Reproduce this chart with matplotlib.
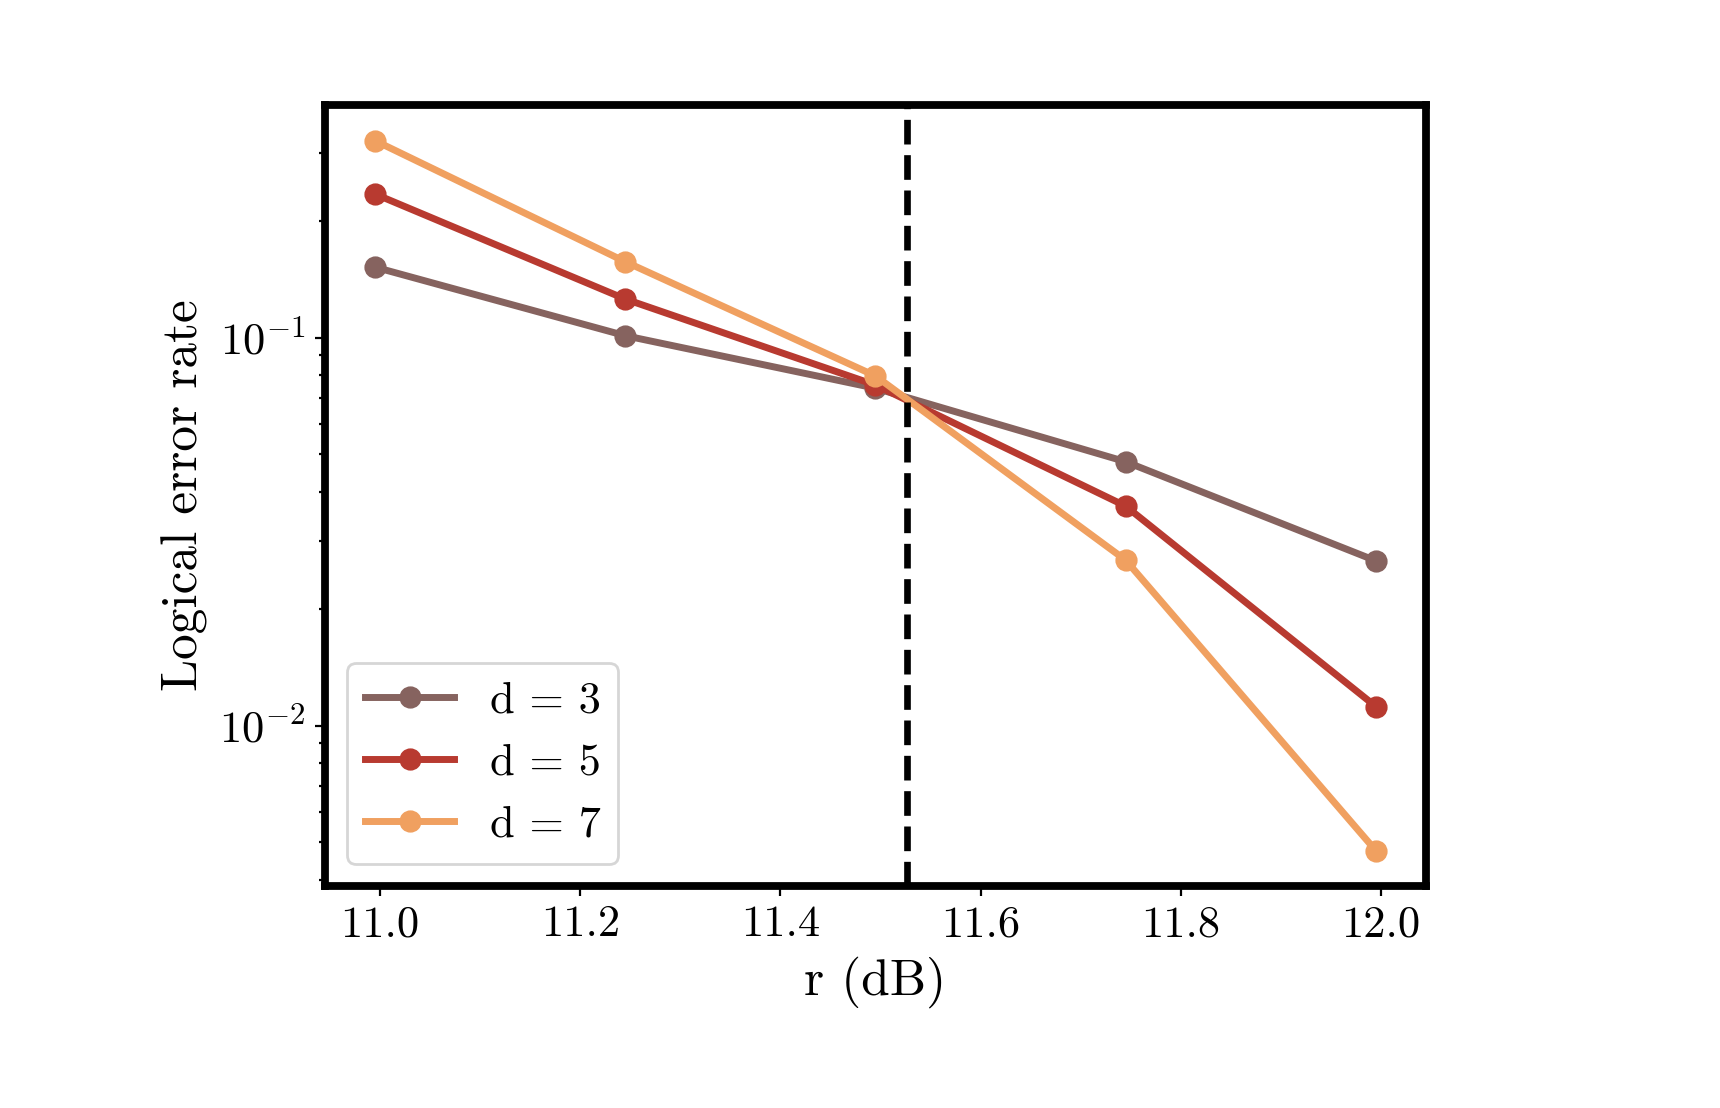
import matplotlib
matplotlib.use("Agg")
import matplotlib.pyplot as plt

plt.rcParams['font.family'] = 'serif'
plt.rcParams['font.serif'] = ['cmr10', 'DejaVu Serif']
plt.rcParams['mathtext.fontset'] = 'cm'
plt.rcParams['axes.formatter.use_mathtext'] = True
plt.rcParams['axes.unicode_minus'] = False

# Data
r_db = [10.995, 11.245, 11.495, 11.745, 11.995]
labels = ["d = 3", "d = 5", "d = 7"]
err_d3 = [0.152, 0.1012, 0.0741, 0.0479, 0.0266]
err_d5 = [0.2346, 0.1258, 0.0755, 0.0368, 0.0112]
err_d7 = [0.322, 0.157, 0.0797, 0.0267, 0.00476]
series = [err_d3, err_d5, err_d7]
colors = ["#86635f", "#b83a30", "#f0a060"]
threshold = 11.526

fig = plt.figure(figsize=(8.6, 5.54), dpi=200)
ax = fig.add_axes([0.189, 0.2004, 0.640, 0.7048])

for ys, lab, c in zip(series, labels, colors):
    ax.plot(r_db, ys, marker='o', color=c, lw=2.5, ms=7, label=lab)

ax.axvline(threshold, color='black', lw=2.4, ls='--')
ax.set_yscale('log')
ax.set_ylim(0.00386, 0.398)
ax.set_xlim(10.945, 12.045)
ax.set_xticks([11.0, 11.2, 11.4, 11.6, 11.8, 12.0])
ax.set_xticklabels(["11.0", "11.2", "11.4", "11.6", "11.8", "12.0"])

for s in ax.spines.values():
    s.set_linewidth(2.8)

ax.tick_params(axis='both', which='major', labelsize=16, length=3.5, width=0.8)
ax.tick_params(axis='y', which='minor', length=2.2, width=0.8)

ax.set_xlabel("r (dB)", fontsize=18.5)
ax.set_ylabel("Logical error rate", fontsize=18.5)

ax.legend(loc='lower left', fontsize=16)

fig.savefig("out.png", dpi=200)
